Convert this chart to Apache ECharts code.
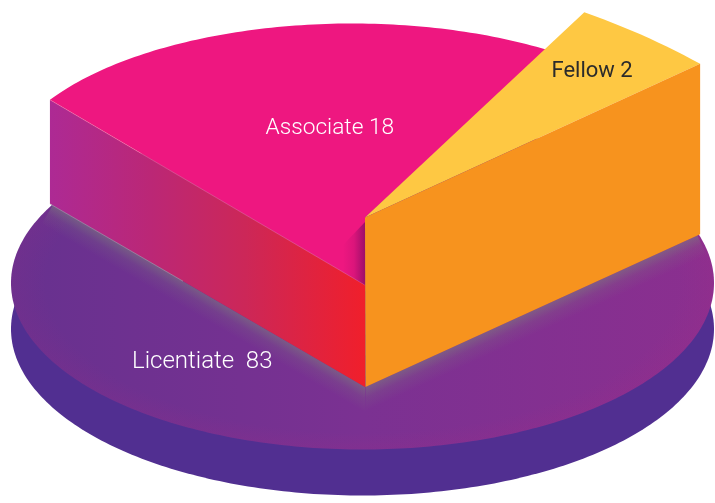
<!DOCTYPE html>
<html>
<head>
<meta charset="utf-8">
<style>
  html, body { margin: 0; padding: 0; background: #fff; }
  #chart { width: 715px; height: 503px; }
</style>
<script src="https://cdn.jsdelivr.net/npm/echarts@6/dist/echarts.min.js"></script>
</head>
<body>
<div id="chart"></div>
<script>
const categories = ['Licentiate', 'Associate', 'Fellow'];
const memberCounts = [83, 18, 2];
const labelGaps = ['  ', ' ', ' '];
// the slices are not drawn to scale in the picture, so their edges are read off it (degrees clockwise from the back)
const sliceFromDeg = [-180, -59.1, 33.3];
const sliceToDeg = [180, 33.6, 45.6];

// one ellipse per step of the stack, and the height of its wall
const levels = [
  { cx: 362.5, cy: 283, rx: 351.5, ry: 166.5, apexY: 387, wall: 46 },
  { cx: 352, cy: 180.5, rx: 352, ry: 157, apexY: 285, wall: 103 },
  { cx: 200, cy: 329, rx: 700, ry: 379, apexY: 217.5, wall: 170 }
];
const apexX = 365;

function project(level, deg) {
  const a = deg * Math.PI / 180;
  return [level.cx + level.rx * Math.sin(a), level.cy - level.ry * Math.cos(a)];
}

function arc(level, from, to) {
  const pts = [];
  const n = Math.ceil(Math.abs(to - from));
  for (let i = 0; i <= n; i++) {
    pts.push(project(level, from + (to - from) * i / n));
  }
  return pts;
}

function poly(points, fill, extra) {
  return { type: 'polygon', shape: { points: points }, style: Object.assign({ fill: fill }, extra) };
}

function linear(x1, y1, x2, y2, stops) {
  const colorStops = stops.map(s => ({ offset: s[0], color: s[1] }));
  return new echarts.graphic.LinearGradient(x1, y1, x2, y2, colorStops, true);
}

// soft shadow that a wall throws on the disc, fading away from the wall foot.
// both shadows share a point straight below the apex so they join up there
function footShadow(a, b) {
  const dx = b[0] - a[0], dy = b[1] - a[1], len = Math.hypot(dx, dy);
  let nx = -dy / len, ny = dx / len;
  if (ny < 0) { nx = -nx; ny = -ny; }
  const w = 22;
  const start = [a[0] + dx / len * 3, a[1] + dy / len * 3];
  const below = [b[0], b[1] + w * len / Math.abs(dx)];
  return poly([start, b, below, [start[0] + nx * w, start[1] + ny * w]],
    linear(a[0], a[1], a[0] + nx * w, a[1] + ny * w, [
      [0, 'rgba(125,125,125,0.55)'], [0.45, 'rgba(125,125,125,0.18)'], [1, 'rgba(125,125,125,0)']
    ]));
}

function label(i, x, y, color, font) {
  return {
    type: 'text',
    x: x, y: y,
    style: {
      text: categories[i] + labelGaps[i] + memberCounts[i],
      fill: color,
      font: font,
      verticalAlign: 'middle'
    }
  };
}

function drawDisc(params) {
  const i = params.dataIndex, lv = levels[i];
  const top = arc(lv, sliceFromDeg[i], sliceToDeg[i]);
  const rim = top.map(p => [p[0], p[1] + lv.wall]);
  return [
    poly(rim, '#512F91'),
    poly(top, linear(lv.cx - lv.rx, 0, lv.cx + lv.rx, 0, [[0, '#67318F'], [0.5, '#7B3192'], [1, '#8B2F8F']])),
    {
      type: 'circle',
      shape: { cx: 0, cy: 0, r: lv.rx },
      x: lv.cx, y: lv.cy, scaleY: lv.ry / lv.rx,
      style: { fill: new echarts.graphic.RadialGradient(0.5, 0.5, 0.5, [
        { offset: 0, color: 'rgba(190,40,125,0)' },
        { offset: 0.9, color: 'rgba(190,40,125,0)' },
        { offset: 1, color: 'rgba(190,40,125,0.09)' }
      ]) }
    },
    label(i, 132, 362, '#ffffff', '300 24px Roboto')
  ];
}

function drawAssociate(params) {
  const i = params.dataIndex, lv = levels[i], fellow = levels[2];
  const edge = arc(lv, sliceFromDeg[i], sliceToDeg[i]);
  const corner = edge[0];
  const apex = [apexX, lv.apexY], foot = [apexX, levels[0].apexY];
  const cornerFoot = [corner[0], corner[1] + lv.wall + 1];
  return [
    footShadow(cornerFoot, foot),
    poly([corner, apex, foot, cornerFoot], linear(corner[0], 0, apexX, 0, [
      [0, '#AD2A94'], [0.32, '#BB2776'], [0.62, '#CC2758'], [1, '#F01F2B']
    ])),
    poly([apex].concat(edge, [[apexX, fellow.apexY]]), '#EE1780'),
    // faint highlight along the front edge, and the dark corner behind the tall slice
    { type: 'line', shape: { x1: corner[0], y1: corner[1], x2: apex[0], y2: apex[1] },
      style: { stroke: 'rgba(250,130,170,0.7)', lineWidth: 0.6 } },
    { type: 'line', shape: { x1: cornerFoot[0], y1: cornerFoot[1], x2: 183, y2: cornerFoot[1] + (183 - cornerFoot[0]) * (foot[1] - cornerFoot[1]) / (foot[0] - cornerFoot[0]) },
      style: { stroke: 'rgba(170,165,175,0.75)', lineWidth: 0.8 } },
    poly([[apexX, apex[1]], [apexX - 22, apex[1] - 12.9], [apexX - 22, 245], [apexX, 222]],
      linear(apexX - 22, 0, apexX, 0, [[0, 'rgba(120,10,95,0)'], [0.5, 'rgba(120,10,95,0.16)'], [1, 'rgba(120,10,95,0.68)']])),
    label(i, 265.5, 128, '#ffffff', '300 22.7px Roboto')
  ];
}

function drawFellow(params) {
  const i = params.dataIndex, lv = levels[i];
  const edge = arc(lv, sliceFromDeg[i], sliceToDeg[i]);
  const end = edge[edge.length - 1];
  const apex = [apexX, lv.apexY], foot = [apexX + 0.5, levels[0].apexY];
  const endFoot = [end[0], end[1] + lv.wall + 0.5];
  return [
    footShadow(endFoot, foot),
    poly([apex].concat(edge), '#FEC843'),
    poly([apex, end, endFoot, foot], '#F7931E'),
    label(i, 551.5, 71.5, '#2b2b2b', '400 22px Roboto')
  ];
}

const painters = [drawDisc, drawAssociate, drawFellow];

const chart = echarts.init(document.getElementById('chart'));
chart.setOption({
  animation: false,
  series: [{
    type: 'custom',
    coordinateSystem: 'none',
    silent: true,
    data: memberCounts,
    renderItem: function (params) {
      return { type: 'group', children: painters[params.dataIndex](params) };
    }
  }]
});
</script>
</body>
</html>
